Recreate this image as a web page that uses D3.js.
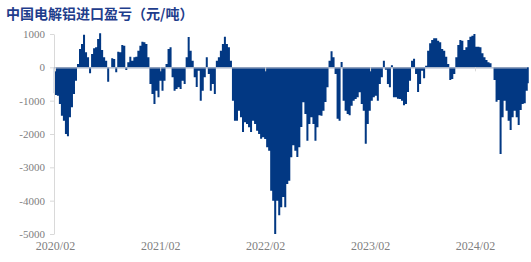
<!DOCTYPE html>
<html>
<head>
<meta charset="utf-8">
<script src="https://cdn.jsdelivr.net/npm/d3@7"></script>
<style>
  body { margin: 0; background: #fff; }
  svg { display: block; }
</style>
</head>
<body>
<svg width="531" height="262"></svg>
<script>
const AREA_BLUE = "#023883";
const TITLE_BLUE = "#1f3d8c";
const GREY_TEXT = "#808080";
const GREY_LINE = "#d9d9d9";

// weekly import profit/loss, yuan per tonne, first week starting late Jan 2020
const start_date = new Date(2020, 0, 28);
const profit = [
  -780, -830, -850, -1100, -1450, -1600, -2000, -2070, -1500, -1200,
  -800, -400, 100, 550, 700, 980, 450, 300, -180, 400,
  570, 600, 850, 1020, 520, 300, 200, -430, 0, 270,
  250, -150, 470, 450, 670, 650, -80, 150, 320, 200,
  300, 320, 500, 650, 770, 750, 700, 300, -500, -800,
  -1100, -700, -900, -400, -700, -400, 100, 550, 600, -300,
  -700, -650, -600, -650, -400, -500, 300, 910, 500, 200,
  -300, -590, -100, -1000, -700, -300, 300, -200, -700, -500,
  -800, 200, 300, 500, 700, 920, 700, 600, 200, -1000,
  -1600, -1600, -1300, -1500, -1940, -1650, -1700, -1800, -1940, -1600,
  -1700, -1900, -2000, -2140, -2100, -2150, -2400, -2500, -3700, -4000,
  -5000, -4000, -4440, -4200, -3890, -4200, -3500, -3400, -2700, -2340,
  -2500, -2690, -2400, -1790, -1050, -1400, -2200, -1700, -1500, -1700,
  -2200, -1800, -1440, -1450, -1300, -1040, -600, 200, 480, 300,
  -200, -1540, -1600, 160, -1000, -1300, -1400, -1440, -1150, -1000,
  -950, -900, -750, -1100, -1300, -2290, -1700, -1300, -1000, -900,
  -850, -1000, -500, -300, 200, -70, -500, -600, 60, -900,
  -900, -940, -950, -1000, -1140, -1100, -740, -400, 200, 260,
  -200, -740, -500, -100, -330, 50, 500, 720, 820, 870,
  870, 800, 750, 550, 500, 320, 100, -380, -350, -200,
  300, 670, 820, 800, 520, 600, 820, 920, 950, 1000,
  620, 620, 600, 420, 300, 220, 150, 120, 0, -380,
  -1030, -980, -2600, -1500, -1000, -1300, -1600, -1880, -1500, -1300,
  -1500, -1730, -1280, -1100, -1080, -700, -480
];

const y_ticks = [-5000, -4000, -3000, -2000, -1000, 0, 1000];
const x_ticks = [
  new Date(2020, 1, 1), new Date(2021, 1, 1), new Date(2022, 1, 1),
  new Date(2023, 1, 1), new Date(2024, 1, 1)
];
const title_text = "中国电解铝进口盈亏（元/吨）";

const series = profit.map((v, i) => ({ date: d3.timeWeek.offset(start_date, i), value: v }));

var svg = d3.select("svg");

var x = d3.scaleTime()
  .domain([x_ticks[0], x_ticks[x_ticks.length - 1]])
  .range([55, 475]);

var y = d3.scaleLinear()
  .domain([-5000, 1000])
  .range([234, 34]);

// title
svg.append("text")
  .attr("x", 6)
  .attr("y", 19)
  .attr("fill", TITLE_BLUE)
  .attr("font-family", "'Noto Sans CJK SC', sans-serif")
  .attr("font-weight", "bold")
  .attr("font-size", 14)
  .text(title_text);

// area drawn as touching columns
var area = d3.area()
  .curve(d3.curveStep)
  .x(d => x(d.date))
  .y0(y(0))
  .y1(d => y(d.value));

svg.append("path")
  .datum(series)
  .attr("fill", AREA_BLUE)
  .attr("d", area);

// y axis
var yAxis = svg.append("g")
  .attr("transform", "translate(54,0)")
  .call(d3.axisLeft(y).tickValues(y_ticks).tickSize(4).tickSizeOuter(0).tickPadding(5)
    .tickFormat(d => String(d)));
yAxis.select(".domain").attr("stroke", GREY_LINE);
yAxis.selectAll(".tick line").attr("stroke", GREY_LINE);
yAxis.selectAll("text")
  .attr("fill", GREY_TEXT)
  .attr("font-family", "'Liberation Serif', serif")
  .attr("font-size", 11);

// zero line with ticks
var zeroAxis = svg.append("g")
  .attr("transform", `translate(0,${y(0)})`)
  .call(d3.axisBottom(x).tickValues(x_ticks).tickSize(4).tickSizeOuter(0).tickFormat(""));
zeroAxis.select(".domain")
  .attr("d", `M54,0.5H527`)
  .attr("stroke", "#aab4c8")
  .attr("stroke-width", 1.2);
zeroAxis.selectAll(".tick line").attr("stroke", GREY_LINE);

// date labels at the bottom
var xLabels = svg.append("g")
  .attr("transform", "translate(0,238)")
  .call(d3.axisBottom(x).tickValues(x_ticks).tickSize(0).tickPadding(3).tickFormat(d3.timeFormat("%Y/%m")));
xLabels.select(".domain").remove();
xLabels.selectAll("text")
  .attr("fill", GREY_TEXT)
  .attr("font-family", "'Liberation Serif', serif")
  .attr("font-size", 12);
</script>
</body>
</html>
